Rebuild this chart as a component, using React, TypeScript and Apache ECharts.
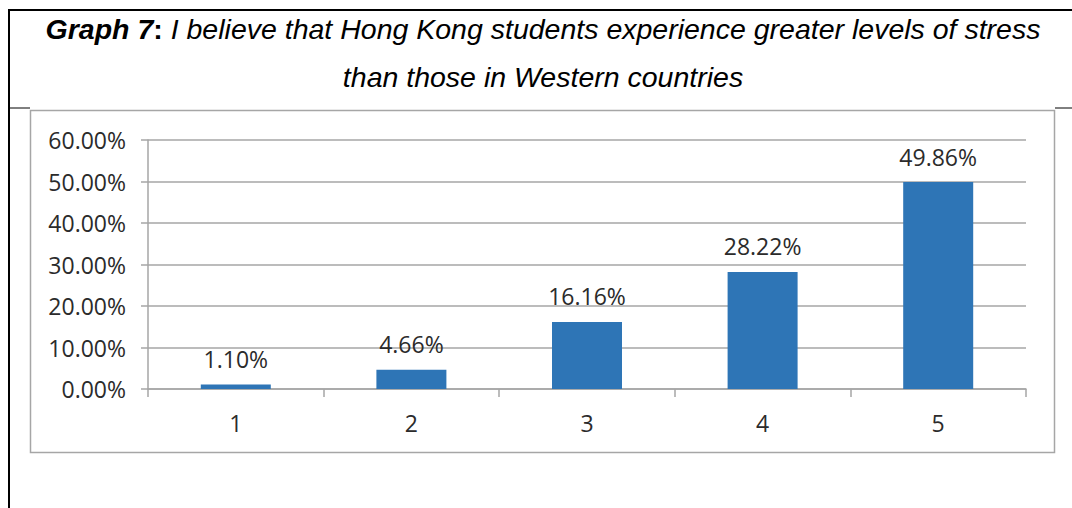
import React, { useEffect, useRef } from "react";
import * as echarts from "echarts";

const categories = ["1", "2", "3", "4", "5"];
const values = [1.1, 4.66, 16.16, 28.22, 49.86];
const yTicks = [0, 10, 20, 30, 40, 50, 60];

const titleLine1Bold = "Graph 7";
const titleLine1Rest = " I believe that Hong Kong students experience greater levels of stress";
const titleLine2 = "than those in Western countries";

export default function App() {
  const ref = useRef<HTMLDivElement>(null);
  useEffect(() => {
    if (!ref.current) return;
    const chart = echarts.init(ref.current, null, { renderer: "svg" });
    const gray = "#a6a6a6";
    const textColor = "#2b2b2b";
    const font = "'Open Sans', sans-serif";
    const tfont = "'Liberation Sans', Arial, sans-serif";
    const fs = 23;
    chart.setOption({
      animation: false,
      backgroundColor: "#ffffff",
      grid: { left: 148, top: 140, width: 878, height: 249, containLabel: false },
      xAxis: {
        type: "category",
        data: categories,
        axisLine: { show: true, lineStyle: { color: gray, width: 1.5 } },
        axisTick: { show: true, length: 8, lineStyle: { color: gray, width: 1.5 } },
        axisLabel: { margin: 22, fontSize: fs, fontFamily: font, color: textColor },
        splitLine: { show: false },
      },
      yAxis: {
        type: "value",
        min: yTicks[0],
        max: yTicks[yTicks.length - 1],
        interval: 10,
        axisLine: { show: true, lineStyle: { color: gray, width: 1.5 } },
        axisTick: { show: true, length: 7, lineStyle: { color: gray, width: 1.5 } },
        axisLabel: {
          margin: 22,
          fontSize: fs,
          fontFamily: font,
          color: textColor,
          formatter: (v: number) => v.toFixed(2) + "%",
        },
        splitLine: { show: true, lineStyle: { color: gray, width: 1.5 } },
      },
      series: [
        {
          type: "bar",
          data: values,
          barWidth: 70,
          itemStyle: { color: "#2e75b6" },
          label: {
            show: true,
            position: "top",
            distance: 14,
            fontSize: fs,
            fontFamily: font,
            color: textColor,
            formatter: (p: any) => p.value.toFixed(2) + "%",
          },
        },
      ],
      graphic: [
        { type: "line", shape: { x1: 8, y1: 10, x2: 1072, y2: 10 }, style: { stroke: "#000", lineWidth: 2 } },
        { type: "line", shape: { x1: 9, y1: 10, x2: 9, y2: 508 }, style: { stroke: "#000", lineWidth: 2 } },
        { type: "line", shape: { x1: 8, y1: 108, x2: 30, y2: 108 }, style: { stroke: "#000", lineWidth: 1 } },
        { type: "line", shape: { x1: 1055, y1: 108, x2: 1072, y2: 108 }, style: { stroke: "#000", lineWidth: 1 } },
        {
          type: "rect",
          shape: { x: 30.5, y: 110.5, width: 1024, height: 342 },
          style: { fill: "none", stroke: gray, lineWidth: 1.5 },
        },
        {
          type: "text",
          x: 543,
          y: 29,
          style: {
            text: "{bi|" + titleLine1Bold + "}{b|:}{i|" + titleLine1Rest + "}",
            align: "center",
            verticalAlign: "middle",
            rich: {
              bi: { fontFamily: tfont, fontSize: 28.5, fontStyle: "italic", fontWeight: "bold", fill: "#000" },
              b: { fontFamily: tfont, fontSize: 28.5, fontWeight: "bold", fill: "#000" },
              i: { fontFamily: tfont, fontSize: 28.5, fontStyle: "italic", fill: "#000" },
            },
          },
        },
        {
          type: "text",
          x: 543,
          y: 77,
          style: {
            text: titleLine2,
            align: "center",
            verticalAlign: "middle",
            fontFamily: tfont,
            fontSize: 28.5,
            fontStyle: "italic",
            fill: "#000",
          },
        },
      ],
    });
    return () => chart.dispose();
  }, []);
  return (
    <div
      ref={ref}
      style={{ position: "absolute", left: 0, top: 0, width: 1072, height: 508 }}
    />
  );
}
